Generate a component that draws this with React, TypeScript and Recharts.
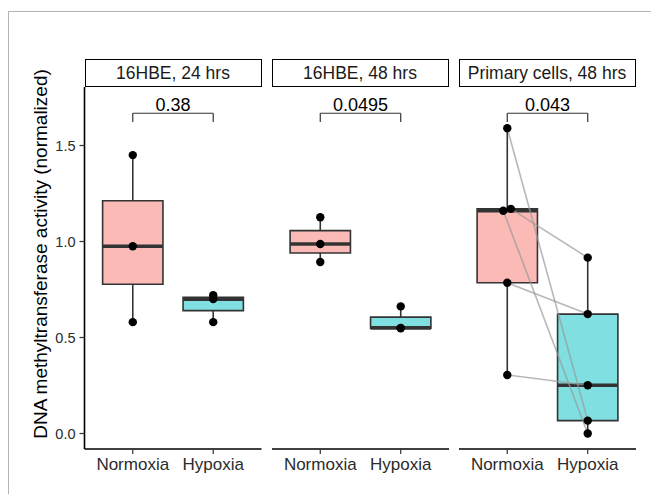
import React from 'react';
import {
  ComposedChart,
  XAxis,
  YAxis,
  Scatter,
  ReferenceArea,
  ReferenceLine,
  ReferenceDot,
  Label,
} from 'recharts';

// ---------- data ----------
const categories = ['Normoxia', 'Hypoxia'];
const panelTitles = ['16HBE, 24 hrs', '16HBE, 48 hrs', 'Primary cells, 48 hrs'];
const pValues = ['0.38', '0.0495', '0.043'];
const yTicks = [0, 0.5, 1.0, 1.5];

const hbe24Normoxia = [1.45, 0.975, 0.58];
const hbe24Hypoxia = [0.72, 0.7, 0.58];
const hbe48Normoxia = [1.126, 0.987, 0.893];
const hbe48Hypoxia = [0.662, 0.55, 0.548];
// paired samples (same order in both arrays)
const primaryNormoxia = [1.59, 1.16, 1.17, 0.785, 0.305];
const primaryHypoxia = [0.067, 0.0, 0.916, 0.622, 0.251];
const primaryNormoxiaJitter = [0, -0.05, 0.045, 0, 0];
const noJitter: number[] = [];

// ---------- styling ----------
const FONT = '"Liberation Sans", Arial, Helvetica, sans-serif';
const PINK = '#FBBAB6';
const CYAN = '#7FDFE1';
const DARK = '#333333';
const Y_DOMAIN: [number, number] = [-0.0807, 1.8047];
const X_DOMAIN: [number, number] = [0.4, 2.6];
const BOX_HALF = 0.375;
const BRACKET_Y = 1.668;
const BRACKET_TIP = 0.045;
const PLOT_TOP = 87;
const PANEL_W = 177;
const PANEL_LEFTS = [84.5, 271.5, 458.5];
const CHART_H = 494;

type Panel = {
  title: string;
  p: string;
  normoxia: number[];
  hypoxia: number[];
  jitter: number[];
  paired: boolean;
};

const panels: Panel[] = [
  { title: panelTitles[0], p: pValues[0], normoxia: hbe24Normoxia, hypoxia: hbe24Hypoxia, jitter: noJitter, paired: false },
  { title: panelTitles[1], p: pValues[1], normoxia: hbe48Normoxia, hypoxia: hbe48Hypoxia, jitter: noJitter, paired: false },
  { title: panelTitles[2], p: pValues[2], normoxia: primaryNormoxia, hypoxia: primaryHypoxia, jitter: primaryNormoxiaJitter, paired: true },
];

function quantile(sorted: number[], p: number) {
  const h = (sorted.length - 1) * p;
  const lo = Math.floor(h);
  const hi = Math.ceil(h);
  return sorted[lo] + (h - lo) * (sorted[hi] - sorted[lo]);
}

function boxStats(values: number[]) {
  const s = [...values].sort((a, b) => a - b);
  const q1 = quantile(s, 0.25);
  const med = quantile(s, 0.5);
  const q3 = quantile(s, 0.75);
  const iqr = q3 - q1;
  const lo = Math.min(...s.filter((v) => v >= q1 - 1.5 * iqr));
  const hi = Math.max(...s.filter((v) => v <= q3 + 1.5 * iqr));
  return { q1, med, q3, lo, hi };
}

const dotShape = (props: any) => <circle cx={props.cx} cy={props.cy} r={4.2} fill="#000" />;

function renderBox(values: number[], pos: number, fill: string, key: string) {
  const st = boxStats(values);
  return [
    <ReferenceLine
      key={key + '-wu'}
      segment={[{ x: pos, y: st.q3 }, { x: pos, y: st.hi }]}
      stroke={DARK}
      strokeWidth={1.6}
      ifOverflow="visible"
    />,
    <ReferenceLine
      key={key + '-wl'}
      segment={[{ x: pos, y: st.lo }, { x: pos, y: st.q1 }]}
      stroke={DARK}
      strokeWidth={1.6}
      ifOverflow="visible"
    />,
    <ReferenceArea
      key={key + '-box'}
      x1={pos - BOX_HALF}
      x2={pos + BOX_HALF}
      y1={st.q1}
      y2={st.q3}
      fill={fill}
      fillOpacity={1}
      stroke={DARK}
      strokeWidth={1.6}
      ifOverflow="visible"
    />,
    <ReferenceLine
      key={key + '-med'}
      segment={[{ x: pos - BOX_HALF, y: st.med }, { x: pos + BOX_HALF, y: st.med }]}
      stroke={DARK}
      strokeWidth={3.6}
      ifOverflow="visible"
    />,
  ];
}

function PanelChart({ panel, index }: { panel: Panel; index: number }) {
  const first = index === 0;
  const marginLeft = first ? 0 : 8;
  const yAxisWidth = first ? PANEL_LEFTS[0] : 0;
  const chartLeft = PANEL_LEFTS[index] - marginLeft - yAxisWidth;
  const width = marginLeft + yAxisWidth + PANEL_W + 8;

  const nData = panel.normoxia.map((v, i) => ({ x: 1 + (panel.jitter[i] ?? 0), y: v }));
  const hData = panel.hypoxia.map((v) => ({ x: 2, y: v }));

  return (
    <div style={{ position: 'absolute', left: chartLeft, top: 0 }}>
      <ComposedChart
        width={width}
        height={CHART_H}
        margin={{ top: PLOT_TOP, right: 8, bottom: 0, left: marginLeft }}
      >
        <XAxis
          type="number"
          dataKey="x"
          domain={X_DOMAIN}
          ticks={[1, 2]}
          interval={0}
          allowDataOverflow
          tickFormatter={(v: number) => categories[Math.round(v) - 1]}
          height={45}
          tickSize={5}
          tickMargin={4}
          axisLine={{ stroke: '#000', strokeWidth: 1.6 }}
          tickLine={{ stroke: DARK, strokeWidth: 1.2 }}
          tick={{ fill: '#2b2b2b', fontSize: 17, fontFamily: FONT }}
        />
        <YAxis
          type="number"
          dataKey="y"
          domain={Y_DOMAIN}
          ticks={yTicks}
          interval={0}
          allowDataOverflow
          hide={!first}
          width={yAxisWidth}
          tickFormatter={(v: number) => v.toFixed(1)}
          tickSize={5}
          tickMargin={4}
          axisLine={{ stroke: '#000', strokeWidth: 1.6 }}
          tickLine={{ stroke: DARK, strokeWidth: 1.2 }}
          tick={{ fill: '#2b2b2b', fontSize: 14.5, fontFamily: FONT }}
        >
          {first && (
            <Label
              content={(props: any) => {
                const vb = props.viewBox || { x: 0, y: PLOT_TOP, height: 362 };
                const cx = vb.x + 40;
                const cy = vb.y + vb.height / 2 - 14;
                return (
                  <text
                    x={cx}
                    y={cy}
                    transform={`rotate(-90 ${cx} ${cy})`}
                    textAnchor="middle"
                    dominantBaseline="central"
                    fontSize={19}
                    fontFamily={FONT}
                    fill="#000"
                  >
                    DNA methyltransferase activity (normalized)
                  </text>
                );
              }}
            />
          )}
        </YAxis>

        {renderBox(panel.normoxia, 1, PINK, 'n')}
        {renderBox(panel.hypoxia, 2, CYAN, 'h')}

        {panel.paired &&
          panel.normoxia.map((v, i) => (
            <ReferenceLine
              key={'pair-' + i}
              segment={[
                { x: 1 + (panel.jitter[i] ?? 0), y: v },
                { x: 2, y: panel.hypoxia[i] },
              ]}
              stroke="#9a9a9a"
              strokeOpacity={0.7}
              strokeWidth={1.6}
              ifOverflow="visible"
            />
          ))}

        <ReferenceLine
          segment={[{ x: 1, y: BRACKET_Y - BRACKET_TIP }, { x: 1, y: BRACKET_Y }]}
          stroke={DARK}
          strokeWidth={1.2}
          ifOverflow="visible"
        />
        <ReferenceLine
          segment={[{ x: 1, y: BRACKET_Y }, { x: 2, y: BRACKET_Y }]}
          stroke={DARK}
          strokeWidth={1.2}
          ifOverflow="visible"
        />
        <ReferenceLine
          segment={[{ x: 2, y: BRACKET_Y }, { x: 2, y: BRACKET_Y - BRACKET_TIP }]}
          stroke={DARK}
          strokeWidth={1.2}
          ifOverflow="visible"
        />
        <ReferenceDot
          x={1.5}
          y={BRACKET_Y}
          r={0}
          fill="none"
          stroke="none"
          ifOverflow="visible"
          label={{ value: panel.p, position: 'top', offset: 2, fontSize: 18, fontFamily: FONT, fill: '#000' }}
        />

        <Scatter data={nData} dataKey="y" shape={dotShape} isAnimationActive={false} />
        <Scatter data={hData} dataKey="y" shape={dotShape} isAnimationActive={false} />
      </ComposedChart>
      <div
        style={{
          position: 'absolute',
          left: chartLeft < 0 ? 0 : PANEL_LEFTS[index] - chartLeft,
          top: 59,
          width: PANEL_W,
          height: 28,
          boxSizing: 'border-box',
          border: '1.6px solid #000',
          display: 'flex',
          alignItems: 'center',
          justifyContent: 'center',
          fontFamily: FONT,
          fontSize: 17.5,
          color: '#1a1a1a',
          background: '#fff',
        }}
      >
        {panel.title}
      </div>
    </div>
  );
}

export default function App() {
  return (
    <div
      style={{
        position: 'absolute',
        left: 0,
        top: 0,
        width: 651,
        height: 494,
        background: '#fff',
        overflow: 'hidden',
      }}
    >
      <div
        style={{
          position: 'absolute',
          left: 8,
          top: 11,
          width: 660,
          height: 500,
          borderTop: '1.5px solid #b4b4b4',
          borderLeft: '1.5px solid #b4b4b4',
        }}
      />
      {panels.map((p, i) => (
        <PanelChart key={i} panel={p} index={i} />
      ))}
    </div>
  );
}
